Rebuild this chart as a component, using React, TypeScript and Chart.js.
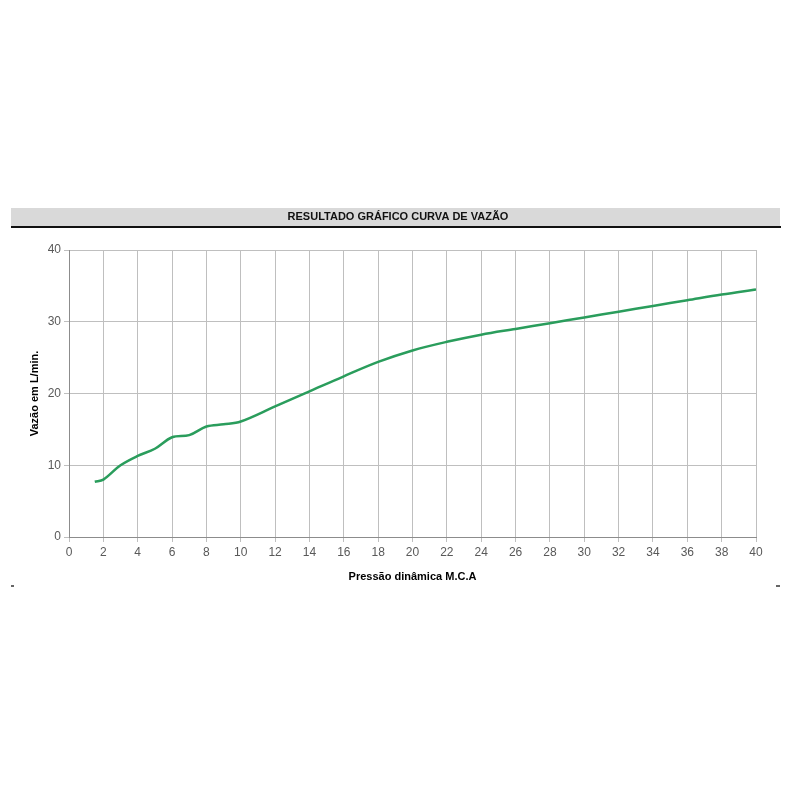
import React, { useEffect, useRef } from "react";
import { Chart, registerables } from "chart.js";

Chart.register(...registerables);

const pressure = [1.5, 2, 3, 4, 5, 6, 7, 8, 9, 10, 12, 14, 16, 18, 20, 22, 24, 26, 28, 30, 32, 34, 36, 38, 40];
const flow = [7.7, 8.0, 10.0, 11.3, 12.3, 13.9, 14.2, 15.4, 15.7, 16.1, 18.2, 20.3, 22.4, 24.4, 26.0, 27.2, 28.2, 29.0, 29.8, 30.6, 31.4, 32.2, 33.0, 33.8, 34.5];
const chartTitle = "RESULTADO GRÁFICO CURVA DE VAZÃO";
const xTitle = "Pressão dinâmica M.C.A";
const yTitle = "Vazão em L/min.";

const FONT = "'Liberation Sans Narrow', 'Liberation Sans', sans-serif";

const decorPlugin = {
  id: "decor",
  beforeDraw(chart: any) {
    const ctx = chart.ctx;
    ctx.save();
    ctx.fillStyle = "#ffffff";
    ctx.fillRect(0, 0, chart.width, chart.height);
    ctx.fillStyle = "#d9d9d9";
    ctx.fillRect(11, 208, 769, 18);
    ctx.fillStyle = "#111111";
    ctx.fillRect(11, 226, 770, 2);
    ctx.font = "bold 11px " + FONT;
    ctx.textAlign = "center";
    ctx.textBaseline = "middle";
    ctx.fillText(chartTitle, 398, 217);
    ctx.fillStyle = "#666666";
    ctx.fillRect(11, 585, 3, 2);
    ctx.fillRect(776, 585, 4, 2);
    ctx.restore();
  },
};

export default function App() {
  const ref = useRef<HTMLCanvasElement>(null);
  useEffect(() => {
    document.body.style.margin = "0";
    const chart = new Chart(ref.current!, {
      type: "line",
      data: {
        datasets: [
          {
            data: pressure.map((p, i) => ({ x: p, y: flow[i] })),
            borderColor: "#2a9d5c",
            borderWidth: 2.5,
            pointRadius: 0,
            tension: 0.35,
            fill: false,
          },
        ],
      },
      options: {
        responsive: false,
        animation: false,
        layout: { padding: { left: 20, right: 44, top: 250, bottom: 212 } },
        plugins: { legend: { display: false }, tooltip: { enabled: false } },
        scales: {
          x: {
            type: "linear",
            min: 0,
            max: 40,
            afterFit: (s: any) => { s.height = 51; },
            ticks: { stepSize: 2, color: "#595959", font: { family: FONT, size: 12 }, padding: 3, maxRotation: 0, autoSkip: false },
            grid: { color: "#bfbfbf", tickLength: 5, lineWidth: 1 },
            border: { color: "#8c8c8c" },
            title: { display: true, text: xTitle, color: "#000000", font: { family: FONT, size: 11, weight: "bold" }, padding: { top: 0, bottom: 4 } },
          },
          y: {
            type: "linear",
            min: 0,
            max: 40,
            afterFit: (s: any) => { s.width = 49; },
            ticks: { stepSize: 10, color: "#595959", font: { family: FONT, size: 12 }, padding: 3 },
            grid: { color: "#bfbfbf", tickLength: 5, lineWidth: 1 },
            border: { color: "#8c8c8c" },
            title: { display: true, text: yTitle, color: "#000000", font: { family: FONT, size: 11, weight: "bold" }, padding: { top: 8, bottom: 0 } },
          },
        },
      },
      plugins: [decorPlugin],
    } as any);
    return () => chart.destroy();
  }, []);
  return <canvas ref={ref} width={800} height={800} style={{ display: "block" }} />;
}
